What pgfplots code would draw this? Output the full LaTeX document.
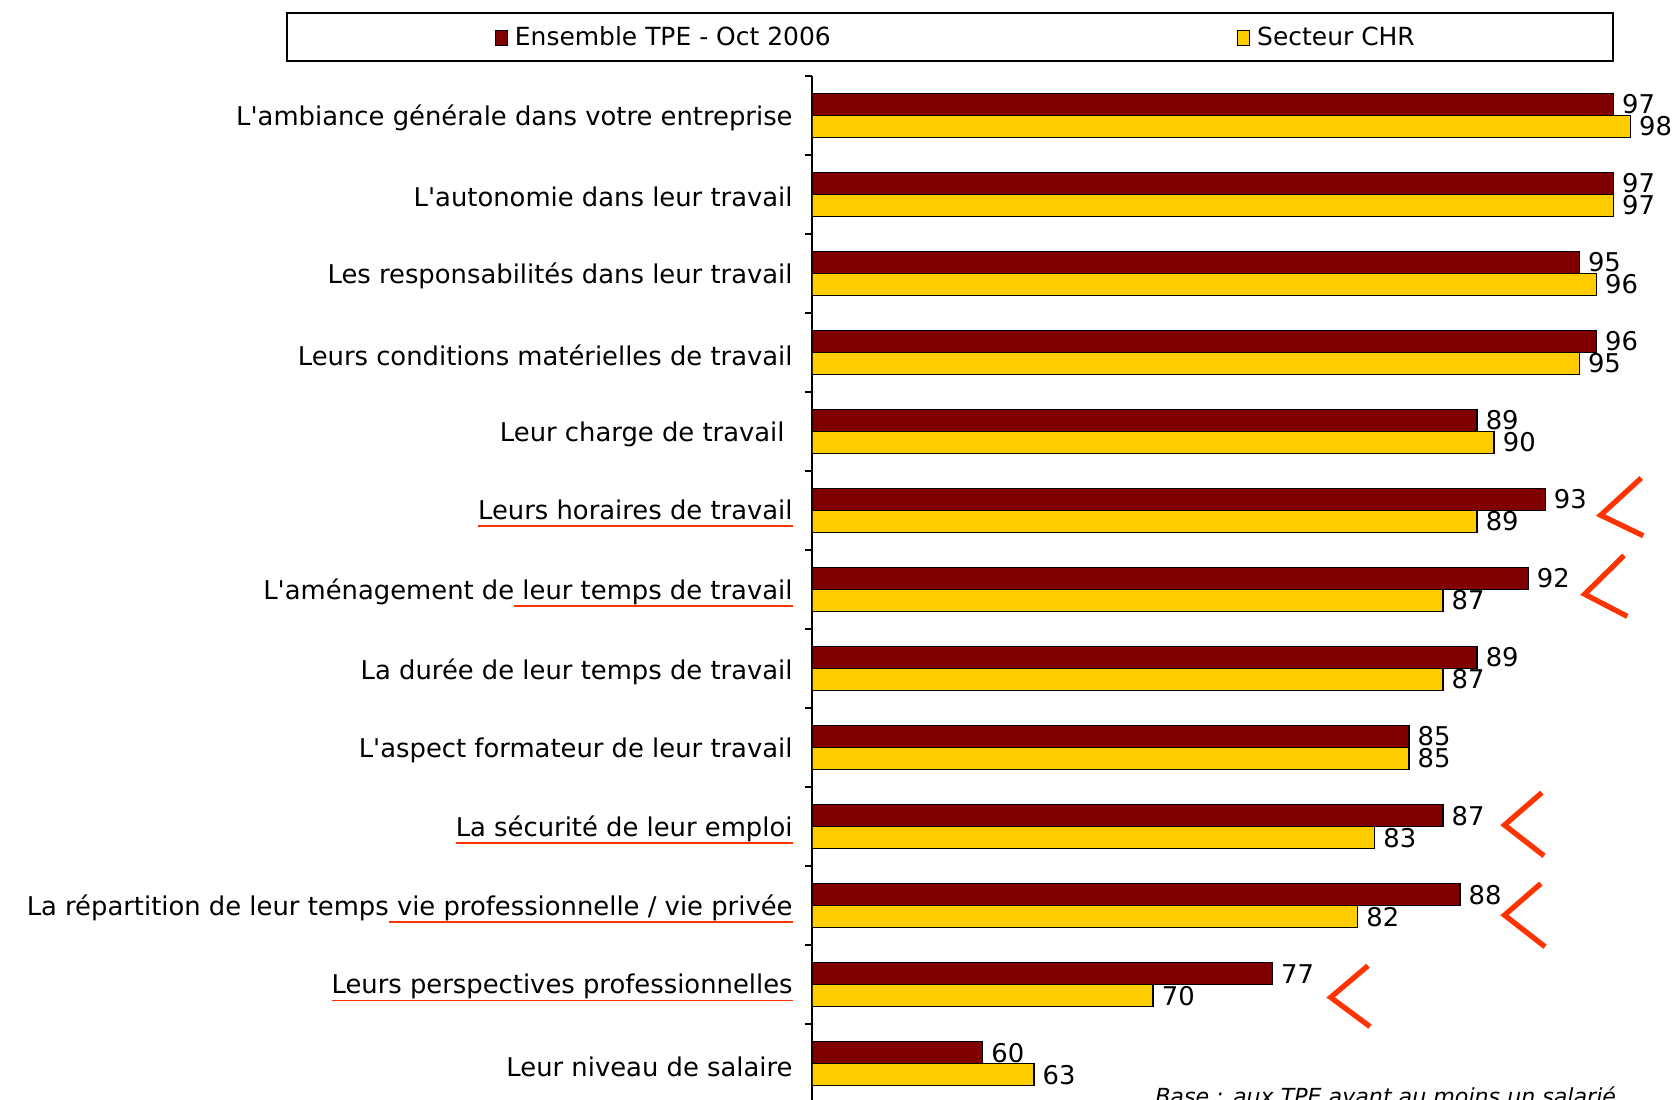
\documentclass[border=0pt]{standalone}
\usepackage{fontspec}
\setmainfont{DejaVu Sans}
\usepackage{pgfplots}
\pgfplotsset{compat=1.18}
\definecolor{tpered}{RGB}{128,0,0}
\definecolor{chryellow}{RGB}{255,204,0}
\definecolor{markred}{RGB}{255,51,0}
% red underline under part of a label
\newcommand\redul[1]{\setbox0\hbox{#1}\rlap{\color{markred}\rule[-0.075cm]{\wd0}{0.016cm}}\box0}
\newcommand\lbl{\fontsize{7.35}{8.5}\selectfont}
\newcommand\q{\textquotesingle}

\begin{document}
\begin{tikzpicture}
\begin{axis}[
  at={(0,0)}, anchor=south west,
  scale only axis, width=8.523cm, height=10.276cm,
  xbar, bar width=0.22cm,
  xmin=50, xmax=100, ymin=-0.5, ymax=12.5,
  axis x line=none, axis y line=left,
  axis line style={-, line width=0.6pt},
  ytick={0,...,12},
  yticklabels={
    Leur niveau de salaire,
    \redul{Leurs perspectives professionnelles},
    La répartition de leur temps\redul{ vie professionnelle / vie privée},
    \redul{La sécurité de leur emploi},
    L\q aspect formateur de leur travail,
    La durée de leur temps de travail,
    L\q aménagement de\redul{ leur temps de travail},
    \redul{Leurs horaires de travail},
    Leur charge de travail\hspace*{0.08cm},
    Leurs conditions matérielles de travail,
    Les responsabilités dans leur travail,
    L\q autonomie dans leur travail,
    L\q ambiance générale dans votre entreprise},
  major tick length=0pt,
  minor ytick={-0.5,0.5,...,12.5},
  minor tick length=0.075cm,
  tick align=outside,
  y tick style={line width=0.5pt, black},
  yticklabel style={font=\lbl, inner sep=0pt, xshift=-0.19cm, yshift=-0.03cm},
  /pgf/number format/assume math mode=true,
  nodes near coords,
  nodes near coords style={font=\lbl, anchor=west, inner sep=0pt, xshift=0.08cm, black},
  legend columns=2,
  legend style={at={(axis description cs:-0.386,1.036)}, anchor=west,
    draw=none, fill=none, font=\fontsize{7.1}{8.5}\selectfont,
    /tikz/every even column/.append style={column sep=3.99cm}},
  legend image code/.code={\draw[#1, line width=0.4pt] (0cm,-0.07cm) rectangle (0.12cm,0.08cm);},
]
\addplot[fill=tpered, draw=black, line width=0.4pt, bar shift=0.11cm]
  coordinates {(97,12)(97,11)(95,10)(96,9)(89,8)(93,7)(92,6)(89,5)(85,4)(87,3)(88,2)(77,1)(60,0)};
\addplot[fill=chryellow, draw=black, line width=0.4pt, bar shift=-0.11cm]
  coordinates {(98,12)(97,11)(96,10)(95,9)(90,8)(89,7)(87,6)(87,5)(85,4)(83,3)(82,2)(70,1)(63,0)};
\legend{Ensemble TPE - Oct 2006, Secteur CHR}
% red chevrons
\draw[markred, line width=1.5pt] (axis cs:98.63,7.41) -- (axis cs:96.25,6.94) -- (axis cs:98.75,6.68);
\draw[markred, line width=1.5pt] (axis cs:97.62,6.43) -- (axis cs:95.31,5.94) -- (axis cs:97.81,5.66);
\draw[markred, line width=1.5pt] (axis cs:92.80,3.43) -- (axis cs:90.61,3.02) -- (axis cs:92.93,2.63);
\draw[markred, line width=1.5pt] (axis cs:92.74,2.28) -- (axis cs:90.61,1.88) -- (axis cs:92.99,1.48);
\draw[markred, line width=1.5pt] (axis cs:82.60,1.24) -- (axis cs:80.41,0.84) -- (axis cs:82.72,0.47);
\node[anchor=north west, inner sep=0pt, font=\fontsize{6.3}{7.5}\selectfont\itshape] at (axis cs:70.08,-0.28) {Base : aux TPE ayant au moins un salarié};
\end{axis}
% legend frame
\draw[line width=0.7pt] (-5.253,10.423) rectangle (8.007,10.903);
\pgfresetboundingbox
\path[use as bounding box] (-8.123,0.033) rectangle (8.607,11.033);
\end{tikzpicture}
\end{document}
